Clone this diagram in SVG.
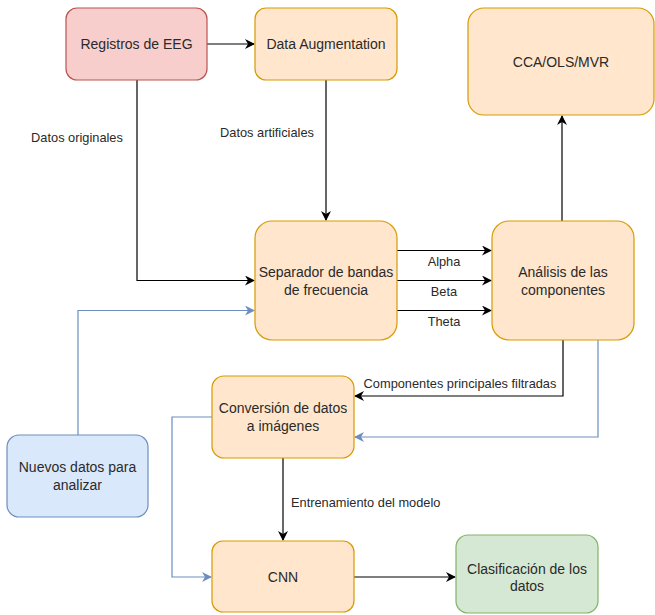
<svg xmlns="http://www.w3.org/2000/svg" width="655" height="615" viewBox="0 0 655 615">
<style>
.n{font-family:"Liberation Sans",Arial,sans-serif;font-size:14px;fill:#2a2a2a;text-anchor:middle;dominant-baseline:central}
.l{font-family:"Liberation Sans",Arial,sans-serif;font-size:12.8px;fill:#2a2a2a;text-anchor:middle;dominant-baseline:central}
.or{fill:#ffe6cc;stroke:#d79b00;stroke-width:1.2}
.rd{fill:#f8cecc;stroke:#b85450;stroke-width:1.2}
.bl{fill:#dae8fc;stroke:#6c8ebf;stroke-width:1.2}
.gr{fill:#d5e8d4;stroke:#82b366;stroke-width:1.2}
.e{fill:none;stroke:#000;stroke-width:1.2}
.eb{fill:none;stroke:#6c8ebf;stroke-width:1.2}
</style>
<defs>
<marker id="a" viewBox="0 0 10 10" refX="9" refY="5" markerWidth="10" markerHeight="10" markerUnits="userSpaceOnUse" orient="auto">
<path d="M0,0 L10,5 L0,10 L3,5 z" fill="#000"/>
</marker>
<marker id="ab" viewBox="0 0 10 10" refX="9" refY="5" markerWidth="10" markerHeight="10" markerUnits="userSpaceOnUse" orient="auto">
<path d="M0,0 L10,5 L0,10 L3,5 z" fill="#6c8ebf"/>
</marker>
</defs>
<rect width="655" height="615" fill="#fff"/>
<g id="connectors">
<path class="e" d="M207,44 H254" marker-end="url(#a)"/>
<path class="e" d="M137,80 V280.5 H254" marker-end="url(#a)"/>
<path class="e" d="M326,80 V220" marker-end="url(#a)"/>
<path class="e" d="M397,250.5 H491" marker-end="url(#a)"/>
<path class="e" d="M397,280.5 H491" marker-end="url(#a)"/>
<path class="e" d="M397,310.5 H491" marker-end="url(#a)"/>
<path class="e" d="M562,221 V116" marker-end="url(#a)"/>
<path class="e" d="M563,340 V396 H355" marker-end="url(#a)"/>
<path class="eb" d="M598,340 V437 H355" marker-end="url(#ab)"/>
<path class="eb" d="M78,435 V310.5 H254" marker-end="url(#ab)"/>
<path class="eb" d="M212,417 H172 V577 H211" marker-end="url(#ab)"/>
<path class="e" d="M283,458 V540" marker-end="url(#a)"/>
<path class="e" d="M354,577 H455" marker-end="url(#a)"/>
<text class="l" x="77" y="137">Datos originales</text>
<text class="l" x="267" y="132">Datos artificiales</text>
<text class="l" x="444" y="261">Alpha</text>
<text class="l" x="444" y="291">Beta</text>
<text class="l" x="444" y="321">Theta</text>
<text class="l" x="460" y="383">Componentes principales filtradas</text>
<text class="l" x="291" y="502" style="text-anchor:start">Entrenamiento del modelo</text>
</g>
<g id="registros"><rect class="rd" x="66" y="8" width="141" height="72" rx="11"/><text class="n" x="136.5" y="44">Registros de EEG</text></g>
<g id="augmentation"><rect class="or" x="255" y="8" width="142" height="72" rx="11"/><text class="n" x="326" y="44">Data Augmentation</text></g>
<g id="cca"><rect class="or" x="468" y="8" width="186" height="107" rx="16"/><text class="n" x="561" y="62">CCA/OLS/MVR</text></g>
<g id="separador"><rect class="or" x="255" y="221" width="142" height="119" rx="17"/><text class="n" x="326" y="272">Separador de bandas</text><text class="n" x="326" y="290">de frecuencia</text></g>
<g id="analisis"><rect class="or" x="492" y="221" width="142" height="119" rx="17"/><text class="n" x="563" y="272">Análisis de las</text><text class="n" x="563" y="290">componentes</text></g>
<g id="conversion"><rect class="or" x="212" y="376" width="142" height="82" rx="12"/><text class="n" x="283" y="408">Conversión de datos</text><text class="n" x="283" y="426">a imágenes</text></g>
<g id="nuevos"><rect class="bl" x="7" y="435" width="141" height="82" rx="12"/><text class="n" x="77.5" y="467">Nuevos datos para</text><text class="n" x="77.5" y="485">analizar</text></g>
<g id="cnn"><rect class="or" x="212" y="541" width="142" height="71" rx="11"/><text class="n" x="283" y="577">CNN</text></g>
<g id="clasificacion"><rect class="gr" x="456" y="535" width="142" height="78" rx="12"/><text class="n" x="527" y="569">Clasificación de los</text><text class="n" x="527" y="586">datos</text></g>
</svg>
